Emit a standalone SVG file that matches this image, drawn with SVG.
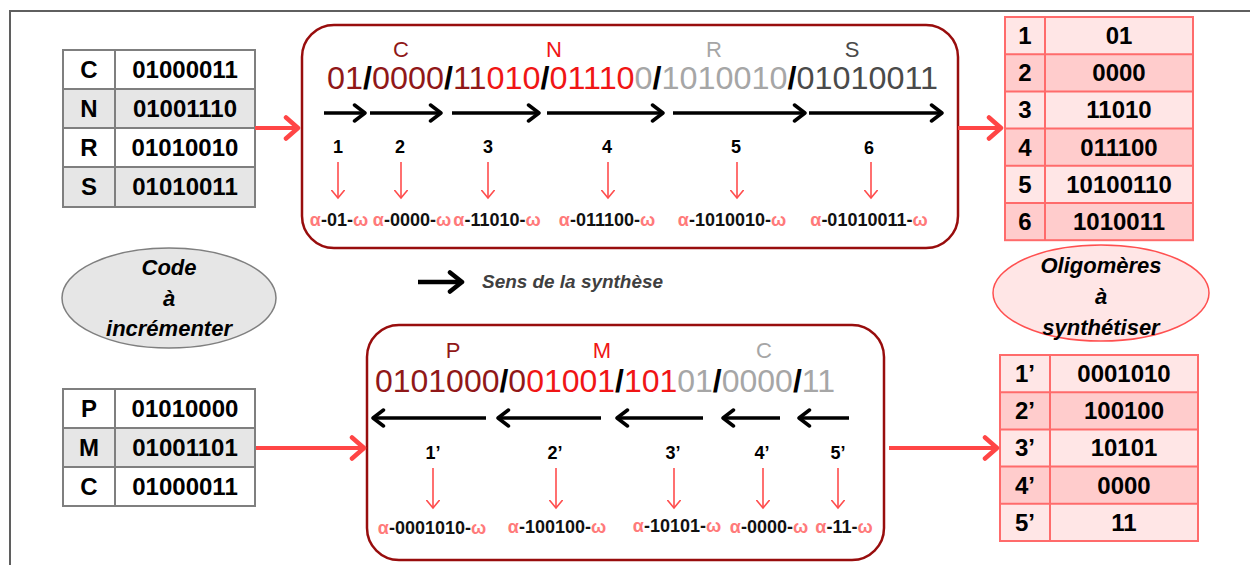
<svg xmlns="http://www.w3.org/2000/svg" width="1250" height="565" viewBox="0 0 1250 565">
<style>
  text { font-family: "Liberation Sans", Arial, sans-serif; }
  .tb { font-size: 24px; font-weight: bold; fill: #000; text-anchor: middle; }
  .num { font-size: 18px; font-weight: bold; fill: #000; text-anchor: middle; }
  .lab { font-size: 18px; font-weight: bold; fill: #111; text-anchor: middle; }
  .aw { fill: #ff7a7a; }
  .let { font-size: 22px; text-anchor: middle; }
  .bin { font-size: 31px; }
  .sl { font-weight: bold; fill: #000; }
  .dr { fill: #901818; }
  .rd { fill: #f01515; }
  .gy { fill: #a6a6a6; }
  .dg { fill: #4a4a4a; }
  .ell { font-size: 22px; font-weight: bold; font-style: italic; fill: #000; text-anchor: middle; }
  .gline { stroke: #7f7f7f; stroke-width: 2; fill: none; }
  .pline { stroke: #ff6b6b; stroke-width: 2; fill: none; }
  .box { fill: #fff; stroke: #980d0d; stroke-width: 2.5; }
  .blk { stroke: #000; stroke-width: 3.5; fill: none; marker-end: url(#blackHead); }
  .sred { stroke: #ff4d4d; stroke-width: 1.6; fill: none; marker-end: url(#redSmall); }
  .bred { stroke: #ff4545; stroke-width: 4; fill: none; marker-end: url(#redBig); }
</style>
<defs>
  <marker id="blackHead" markerUnits="userSpaceOnUse" markerWidth="16" markerHeight="20" viewBox="0 0 16 20" refX="13" refY="10" orient="auto">
    <path d="M2.5,2 L13,10 L2.5,18" stroke="#000" stroke-width="3.5" fill="none" stroke-linecap="round" stroke-linejoin="round"/>
  </marker>
  <marker id="redSmall" markerUnits="userSpaceOnUse" markerWidth="10" markerHeight="14" viewBox="0 0 10 14" refX="8.5" refY="7" orient="auto">
    <path d="M1,0.8 L8.5,7 L1,13.2" stroke="#ff4d4d" stroke-width="1.6" fill="none" stroke-linecap="round"/>
  </marker>
  <marker id="redBig" markerUnits="userSpaceOnUse" markerWidth="18" markerHeight="26" viewBox="0 0 18 26" refX="15" refY="13" orient="auto">
    <path d="M3,2.5 L15,13 L3,23.5" stroke="#ff4545" stroke-width="4.5" fill="none" stroke-linecap="round" stroke-linejoin="round"/>
  </marker>
  <marker id="legendHead" markerUnits="userSpaceOnUse" markerWidth="18" markerHeight="24" viewBox="0 0 18 24" refX="15" refY="12" orient="auto">
    <path d="M3,2.5 L15,12 L3,21.5" stroke="#000" stroke-width="4.5" fill="none" stroke-linecap="round" stroke-linejoin="round"/>
  </marker>
</defs>

<rect width="1250" height="565" fill="#fff"/>
<path d="M10,565 L10,11 L1250,11" stroke="#5f5f5f" stroke-width="2" fill="none"/>

<!-- Top-left table -->
<g id="table-top-left">
  <rect x="63" y="50" width="192" height="39" fill="#fff"/>
  <rect x="63" y="89" width="192" height="39" fill="#e6e6e6"/>
  <rect x="63" y="128" width="192" height="39" fill="#fff"/>
  <rect x="63" y="167" width="192" height="40" fill="#e6e6e6"/>
  <rect x="63" y="50" width="192" height="157" class="gline"/>
  <line x1="115" y1="50" x2="115" y2="207" class="gline"/>
  <line x1="63" y1="89" x2="255" y2="89" class="gline" stroke-width="3"/>
  <line x1="63" y1="128" x2="255" y2="128" class="gline"/>
  <line x1="63" y1="167" x2="255" y2="167" class="gline"/>
  <text x="89" y="78" class="tb">C</text><text x="185" y="78" class="tb">01000011</text>
  <text x="89" y="117" class="tb">N</text><text x="185" y="117" class="tb">01001110</text>
  <text x="89" y="156" class="tb">R</text><text x="185" y="156" class="tb">01010010</text>
  <text x="89" y="195" class="tb">S</text><text x="185" y="195" class="tb">01010011</text>
</g>

<!-- Top synthesis box -->
<g id="box-top">
  <rect x="302" y="25" width="656" height="223" rx="32" ry="32" class="box"/>
  <text x="401" y="57" class="let dr">C</text>
  <text x="554" y="57" class="let rd">N</text>
  <text x="714" y="57" class="let gy">R</text>
  <text x="852" y="57" class="let dg">S</text>
  <text x="327" y="89" class="bin" textLength="611" lengthAdjust="spacingAndGlyphs"><tspan class="dr">01</tspan><tspan class="sl">/</tspan><tspan class="dr">0000</tspan><tspan class="sl">/</tspan><tspan class="dr">11</tspan><tspan class="rd">010</tspan><tspan class="sl">/</tspan><tspan class="rd">01110</tspan><tspan class="gy">0</tspan><tspan class="sl">/</tspan><tspan class="gy">1010010</tspan><tspan class="sl">/</tspan><tspan class="dg">01010011</tspan></text>
  <line x1="324" y1="113" x2="365" y2="113" class="blk"/>
  <line x1="370" y1="113" x2="441" y2="113" class="blk"/>
  <line x1="452" y1="113" x2="539" y2="113" class="blk"/>
  <line x1="547" y1="113" x2="663" y2="113" class="blk"/>
  <line x1="673" y1="113" x2="805" y2="113" class="blk"/>
  <line x1="809" y1="113" x2="942" y2="113" class="blk"/>
  <text x="338" y="153" class="num">1</text>
  <text x="400" y="153" class="num">2</text>
  <text x="488" y="153" class="num">3</text>
  <text x="607" y="153" class="num">4</text>
  <text x="736" y="153" class="num">5</text>
  <text x="869" y="154" class="num">6</text>
  <line x1="338" y1="162" x2="338" y2="198" class="sred"/>
  <line x1="401" y1="162" x2="401" y2="198" class="sred"/>
  <line x1="488" y1="162" x2="488" y2="198" class="sred"/>
  <line x1="608" y1="162" x2="608" y2="198" class="sred"/>
  <line x1="737" y1="162" x2="737" y2="198" class="sred"/>
  <line x1="871" y1="162" x2="871" y2="198" class="sred"/>
  <text x="339" y="226" class="lab"><tspan class="aw">α</tspan>-01-<tspan class="aw">ω</tspan></text>
  <text x="412" y="226" class="lab"><tspan class="aw">α</tspan>-0000-<tspan class="aw">ω</tspan></text>
  <text x="497" y="226" class="lab"><tspan class="aw">α</tspan>-11010-<tspan class="aw">ω</tspan></text>
  <text x="607" y="226" class="lab"><tspan class="aw">α</tspan>-011100-<tspan class="aw">ω</tspan></text>
  <text x="732" y="226" class="lab"><tspan class="aw">α</tspan>-1010010-<tspan class="aw">ω</tspan></text>
  <text x="869" y="226" class="lab"><tspan class="aw">α</tspan>-01010011-<tspan class="aw">ω</tspan></text>
</g>

<!-- Top-right table -->
<g id="table-top-right">
  <rect x="1005" y="17" width="188" height="37.2" fill="#ffe6e6"/>
  <rect x="1005" y="54.2" width="188" height="37.2" fill="#ffcccc"/>
  <rect x="1005" y="91.4" width="188" height="37.2" fill="#ffe6e6"/>
  <rect x="1005" y="128.6" width="188" height="37.2" fill="#ffcccc"/>
  <rect x="1005" y="165.8" width="188" height="37.2" fill="#ffe6e6"/>
  <rect x="1005" y="203" width="188" height="37.2" fill="#ffcccc"/>
  <rect x="1005" y="17" width="188" height="223.2" class="pline"/>
  <line x1="1045" y1="17" x2="1045" y2="240.2" class="pline"/>
  <line x1="1005" y1="54.2" x2="1193" y2="54.2" class="pline"/>
  <line x1="1005" y1="91.4" x2="1193" y2="91.4" class="pline"/>
  <line x1="1005" y1="128.6" x2="1193" y2="128.6" class="pline"/>
  <line x1="1005" y1="165.8" x2="1193" y2="165.8" class="pline"/>
  <line x1="1005" y1="203" x2="1193" y2="203" class="pline"/>
  <text x="1025" y="44" class="tb">1</text><text x="1119" y="44" class="tb">01</text>
  <text x="1025" y="81" class="tb">2</text><text x="1119" y="81" class="tb">0000</text>
  <text x="1025" y="118" class="tb">3</text><text x="1119" y="118" class="tb">11010</text>
  <text x="1025" y="156" class="tb">4</text><text x="1119" y="156" class="tb">011100</text>
  <text x="1025" y="193" class="tb">5</text><text x="1119" y="193" class="tb">10100110</text>
  <text x="1025" y="230" class="tb">6</text><text x="1119" y="230" class="tb">1010011</text>
</g>

<!-- Left ellipse -->
<g id="ellipse-code">
  <ellipse cx="169" cy="298" rx="107" ry="50" fill="#e6e6e6" stroke="#7f7f7f" stroke-width="1.5"/>
  <text x="169" y="275" class="ell">Code</text>
  <text x="169" y="306" class="ell">à</text>
  <text x="169" y="336" class="ell">incrémenter</text>
</g>

<!-- Legend -->
<g id="legend">
  <line x1="418" y1="282" x2="462" y2="282" stroke="#000" stroke-width="4.5" marker-end="url(#legendHead)"/>
  <text x="482" y="288" font-size="18" font-weight="bold" font-style="italic" fill="#404040" textLength="181" lengthAdjust="spacingAndGlyphs">Sens de la synthèse</text>
</g>

<!-- Right ellipse -->
<g id="ellipse-oligo">
  <ellipse cx="1101" cy="293" rx="108" ry="48" fill="#ffe6e6" stroke="#ff5050" stroke-width="1.5"/>
  <text x="1101" y="273" class="ell">Oligomères</text>
  <text x="1101" y="304" class="ell">à</text>
  <text x="1101" y="335" class="ell">synthétiser</text>
</g>

<!-- Bottom-left table -->
<g id="table-bottom-left">
  <rect x="63" y="389" width="192" height="39" fill="#fff"/>
  <rect x="63" y="428" width="192" height="39" fill="#e6e6e6"/>
  <rect x="63" y="467" width="192" height="39" fill="#fff"/>
  <rect x="63" y="389" width="192" height="117" class="gline"/>
  <line x1="115" y1="389" x2="115" y2="506" class="gline"/>
  <line x1="63" y1="428" x2="255" y2="428" class="gline" stroke-width="3"/>
  <line x1="63" y1="467" x2="255" y2="467" class="gline"/>
  <text x="89" y="417" class="tb">P</text><text x="185" y="417" class="tb">01010000</text>
  <text x="89" y="456" class="tb">M</text><text x="185" y="456" class="tb">01001101</text>
  <text x="89" y="495" class="tb">C</text><text x="185" y="495" class="tb">01000011</text>
</g>

<!-- Bottom synthesis box -->
<g id="box-bottom">
  <rect x="367" y="325" width="517" height="235" rx="32" ry="32" class="box"/>
  <text x="453" y="358" class="let dr">P</text>
  <text x="602" y="358" class="let rd">M</text>
  <text x="764" y="358" class="let gy">C</text>
  <text x="375" y="392" class="bin" textLength="460" lengthAdjust="spacingAndGlyphs"><tspan class="dr">0101000</tspan><tspan class="sl">/</tspan><tspan class="dr">0</tspan><tspan class="rd">01001</tspan><tspan class="sl">/</tspan><tspan class="rd">101</tspan><tspan class="gy">01</tspan><tspan class="sl">/</tspan><tspan class="gy">0000</tspan><tspan class="sl">/</tspan><tspan class="gy">11</tspan></text>
  <line x1="486" y1="418" x2="373" y2="418" class="blk"/>
  <line x1="601" y1="418" x2="498" y2="418" class="blk"/>
  <line x1="703" y1="418" x2="617" y2="418" class="blk"/>
  <line x1="780" y1="418" x2="723" y2="418" class="blk"/>
  <line x1="849" y1="418" x2="799" y2="418" class="blk"/>
  <text x="433" y="459" class="num">1’</text>
  <text x="555" y="459" class="num">2’</text>
  <text x="673" y="459" class="num">3’</text>
  <text x="762" y="459" class="num">4’</text>
  <text x="838" y="459" class="num">5’</text>
  <line x1="433" y1="468" x2="433" y2="508" class="sred"/>
  <line x1="556" y1="468" x2="556" y2="508" class="sred"/>
  <line x1="674" y1="468" x2="674" y2="508" class="sred"/>
  <line x1="763" y1="468" x2="763" y2="508" class="sred"/>
  <line x1="838" y1="468" x2="838" y2="508" class="sred"/>
  <text x="432" y="534" class="lab"><tspan class="aw">α</tspan>-0001010-<tspan class="aw">ω</tspan></text>
  <text x="557" y="533" class="lab"><tspan class="aw">α</tspan>-100100-<tspan class="aw">ω</tspan></text>
  <text x="677" y="532" class="lab"><tspan class="aw">α</tspan>-10101-<tspan class="aw">ω</tspan></text>
  <text x="769" y="533" class="lab"><tspan class="aw">α</tspan>-0000-<tspan class="aw">ω</tspan></text>
  <text x="844" y="533" class="lab"><tspan class="aw">α</tspan>-11-<tspan class="aw">ω</tspan></text>
</g>

<!-- Bottom-right table -->
<g id="table-bottom-right">
  <rect x="1000" y="355" width="198" height="37.2" fill="#ffe6e6"/>
  <rect x="1000" y="392.2" width="198" height="37.2" fill="#ffcccc"/>
  <rect x="1000" y="429.4" width="198" height="37.2" fill="#ffe6e6"/>
  <rect x="1000" y="466.6" width="198" height="37.2" fill="#ffcccc"/>
  <rect x="1000" y="503.8" width="198" height="37.2" fill="#ffe6e6"/>
  <rect x="1000" y="355" width="198" height="186" class="pline"/>
  <line x1="1050" y1="355" x2="1050" y2="541" class="pline"/>
  <line x1="1000" y1="392.2" x2="1198" y2="392.2" class="pline"/>
  <line x1="1000" y1="429.4" x2="1198" y2="429.4" class="pline"/>
  <line x1="1000" y1="466.6" x2="1198" y2="466.6" class="pline"/>
  <line x1="1000" y1="503.8" x2="1198" y2="503.8" class="pline"/>
  <text x="1025" y="382" class="tb">1’</text><text x="1124" y="382" class="tb">0001010</text>
  <text x="1025" y="419" class="tb">2’</text><text x="1124" y="419" class="tb">100100</text>
  <text x="1025" y="456" class="tb">3’</text><text x="1124" y="456" class="tb">10101</text>
  <text x="1025" y="494" class="tb">4’</text><text x="1124" y="494" class="tb">0000</text>
  <text x="1025" y="531" class="tb">5’</text><text x="1124" y="531" class="tb">11</text>
</g>

<!-- Connectors -->
<g id="connectors">
  <line x1="255" y1="128" x2="298" y2="128" class="bred"/>
  <line x1="958" y1="128" x2="1001" y2="128" class="bred"/>
  <line x1="256" y1="448" x2="364" y2="448" class="bred"/>
  <line x1="889" y1="448" x2="997" y2="448" class="bred"/>
</g>
</svg>
